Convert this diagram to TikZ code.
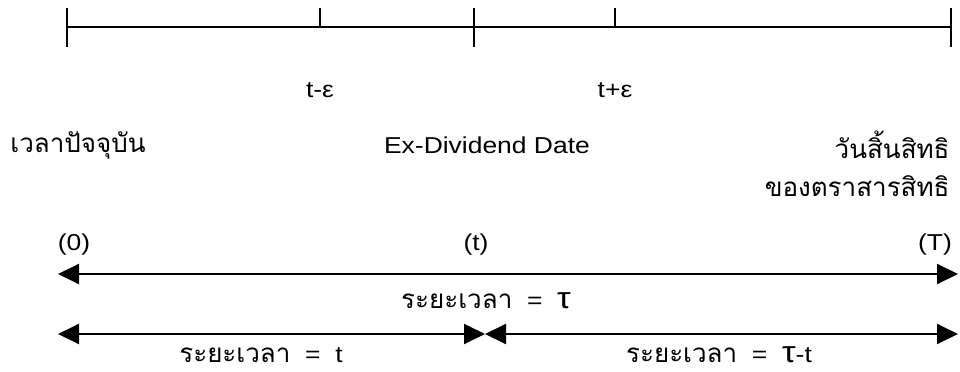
\documentclass[tikz,border=0pt]{standalone}
\usepackage{fontspec}
\setmainfont[FakeStretch=1.15]{Liberation Sans}
\newfontfamily\thaifont[Script=Thai]{Loma}
\usetikzlibrary{arrows.meta, positioning}

\begin{document}
\begin{tikzpicture}[x=0.5pt, y=-0.5pt,
    axis/.style={line width=1pt},
    dim/.style={line width=1pt, {Triangle[length=10.5pt,width=10pt]}-{Triangle[length=10.5pt,width=10pt]}},
    lbl/.style={font=\fontsize{11.5}{13}\selectfont, inner sep=0pt},
    thai/.style={font=\thaifont\fontsize{13}{15}\selectfont, inner sep=0pt}]
  \useasboundingbox (0,0) rectangle (960,371);

  % time line
  \coordinate (now) at (67,27);
  \coordinate (exd) at (474,27);
  \coordinate (mat) at (951,27);
  \draw[axis] (now) -- (mat);

  % long ticks
  \foreach \p in {now,exd,mat} {
      \draw[axis] (\p) ++(0,-19) -- ++(0,39);
    }

  % short ticks
  \foreach \x/\n in {320/tm, 615/tp} {
      \draw[axis] (\x,27) coordinate (\n) -- ++(0,-19);
    }

  % labels
  \node[lbl] (tmlbl) at (320,90) {t-ε};
  \node[lbl] (tplbl) at (615,90) {t+ε};
  \node[thai, anchor=west] (nowlbl) at (10,145) {เวลาปัจจุบัน};
  \node[lbl] (exdlbl) at (487,145) {Ex-Dividend Date};
  \node[thai, anchor=east] (matlbl) at (950,145) {วันสิ้นสิทธิ};
  \node[thai, anchor=east] (matsub) at (950,186) {ของตราสารสิทธิ};
  \foreach \x/\n/\t in {74/zero/(0), 476/tee/(t), 935/cap/(T)} {
      \node[lbl] (\n) at (\x,245) {\t};
    }

  % spans
  \coordinate (a0) at (58,274);
  \coordinate (aT) at (958,274);
  \coordinate (b0) at (58,334);
  \coordinate (bt) at (485,334);
  \coordinate (bT) at (958,334);
  \draw[dim] (a0) -- (aT);
  \draw[dim] (b0) -- (bt);
  \draw[dim] (bt) -- (bT);
  \node[lbl, anchor=base] (alen) at (486,308) {{\thaifont\fontsize{13}{15}\selectfont ระยะเวลา}~~=~~{\fontsize{15}{15}\selectfont τ}};
  \node[lbl, anchor=base] (blen) at (261,362) {{\thaifont\fontsize{13}{15}\selectfont ระยะเวลา}~~=~~t};
  \node[lbl, anchor=base] (clen) at (719,362) {{\thaifont\fontsize{13}{15}\selectfont ระยะเวลา}~~=~~{\fontsize{15}{15}\selectfont τ}-t};
\end{tikzpicture}
\end{document}
